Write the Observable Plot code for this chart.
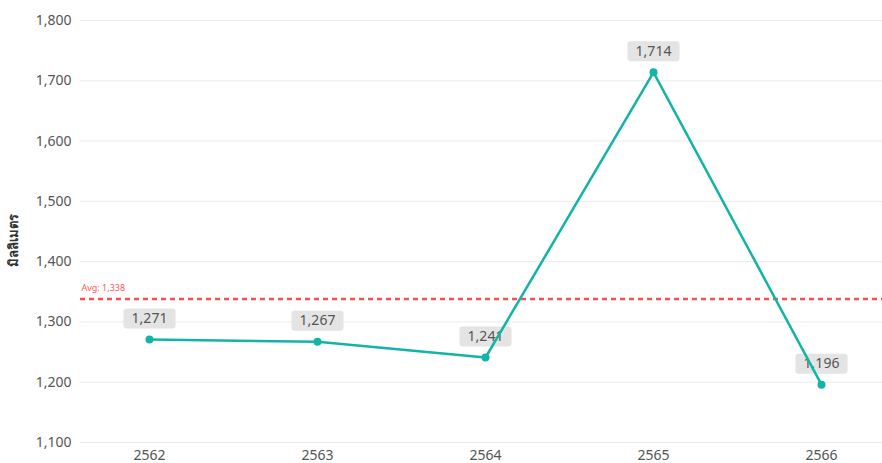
<!DOCTYPE html>
<html><head><meta charset="utf-8">
<script src="https://cdn.jsdelivr.net/npm/d3@7"></script>
<script src="https://cdn.jsdelivr.net/npm/@observablehq/plot@0.6"></script>
<style>body{margin:0;background:#fff;}#chart{width:882px;height:463px;}</style>
</head><body><div id="chart"></div>
<script>
const years = ["2562", "2563", "2564", "2565", "2566"];
const rainfall = [1271, 1267, 1241, 1714, 1196];
const yTicks = [1100, 1200, 1300, 1400, 1500, 1600, 1700, 1800];
const avgValue = 1338;
const yLabel = "มิลลิเมตร";

const data = years.map((y, i) => ({year: y, value: rainfall[i]}));
const fmt = d3.format(",");

const boxSymbol = {
  draw(ctx) {
    const w = 52, h = 20, r = 3, x0 = -w / 2, y0 = -h / 2;
    ctx.moveTo(x0 + r, y0);
    ctx.arcTo(x0 + w, y0, x0 + w, y0 + h, r);
    ctx.arcTo(x0 + w, y0 + h, x0, y0 + h, r);
    ctx.arcTo(x0, y0 + h, x0, y0, r);
    ctx.arcTo(x0, y0, x0 + w, y0, r);
    ctx.closePath();
  }
};

const chart = Plot.plot({
  width: 882,
  height: 463,
  marginLeft: 80,
  marginRight: 0,
  marginTop: 20,
  marginBottom: 21,
  style: {fontFamily: "'Noto Sans', sans-serif", fontSize: "14px", color: "#555", background: "#fff"},
  x: {type: "point", domain: years, range: [148, 822], padding: 0, label: null, tickSize: 0, tickPadding: 8},
  y: {domain: [1100, 1800], ticks: yTicks, tickFormat: fmt, label: null, tickSize: 0, tickPadding: 9},
  marks: [
    Plot.ruleY(yTicks, {stroke: "#ebebeb", strokeWidth: 1}),
    Plot.ruleY([avgValue], {stroke: "#ff4d4d", strokeWidth: 2.5, strokeDasharray: "5,4"}),
    Plot.text([avgValue], {y: d => d, frameAnchor: "left", dx: 1, dy: -11, text: d => "Avg: " + fmt(d), fill: "#ff5a5a", fontSize: 9, textAnchor: "start"}),
    Plot.dot(data, {x: "year", y: "value", dy: -21, symbol: boxSymbol, r: 5, fill: "#e4e4e4", stroke: null}),
    Plot.text(data, {x: "year", y: "value", dy: -21, text: d => fmt(d.value), fill: "#555", fontSize: 14}),
    Plot.line(data, {x: "year", y: "value", stroke: "#12b5a5", strokeWidth: 2.5}),
    Plot.dot(data, {x: "year", y: "value", fill: "#12b5a5", r: 4})
  ]
});

const svg = d3.select(chart);
svg.append("text")
  .attr("transform", "translate(18,240) rotate(-90)")
  .attr("text-anchor", "middle")
  .attr("font-weight", "bold")
  .attr("font-size", 13)
  .attr("fill", "#333")
  .attr("font-family", "'Noto Sans', sans-serif")
  .text(yLabel);

document.getElementById("chart").appendChild(chart);
</script>
</body></html>
